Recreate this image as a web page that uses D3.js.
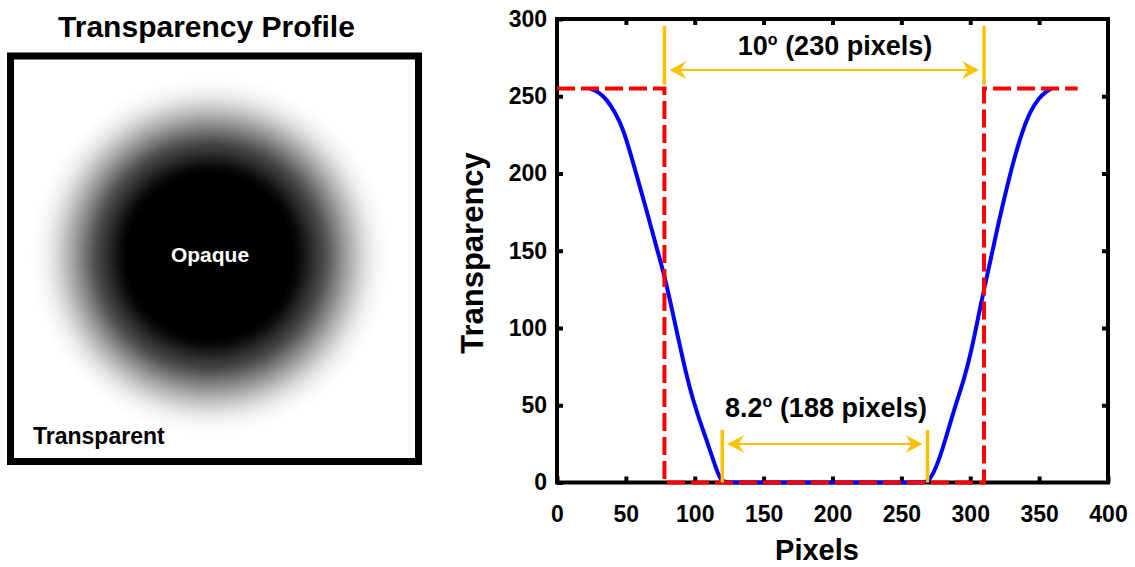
<!DOCTYPE html>
<html>
<head>
<meta charset="utf-8">
<script src="https://cdn.jsdelivr.net/npm/d3@7"></script>
<style>
  body { margin: 0; background: #fff; }
  text { font-family: "Liberation Sans", Arial, sans-serif; font-weight: bold; }
</style>
</head>
<body>
<svg width="1135" height="567"></svg>
<script>
// profile curve (blue)
var curveX = [24, 30, 36, 42, 48, 54, 60, 66, 72, 78, 84, 90, 96, 102, 108, 114, 119, 124,
              195, 265, 270, 277, 284, 290, 296, 302, 306, 310, 315, 320, 326, 332, 338, 344, 350, 355, 359];
var curveY = [255, 253, 248, 240, 229, 211, 192, 173, 153, 134, 110, 85, 62, 44, 29, 13, 0, 0,
              0, 0, 0, 13, 34, 52, 68, 90, 108, 125, 145, 166, 189, 210, 228, 241, 249, 253, 255];

// step profile (red dashed)
var stepX = [0, 78, 78, 310, 310, 378];
var stepY = [255, 255, 0, 0, 255, 255];

var xTicks = [0, 50, 100, 150, 200, 250, 300, 350, 400];
var yTicks = [0, 50, 100, 150, 200, 250, 300];

// annotations
var wideSpan = [78, 310], wideArrowY = 267, wideBar = [257.5, 295.5];
var narrowSpan = [120, 269], narrowArrowY = 25, narrowBar = [0, 34];

var orange = "#FFC000";
var svg = d3.select("svg");

// ---------- left panel ----------
var left = svg.append("g");

left.append("text")
    .attr("x", 206.5).attr("y", 37)
    .attr("text-anchor", "middle")
    .style("font-size", "30px")
    .text("Transparency Profile");

// radial gradient built from the right half of the curve
var center = 195, outer = 165;
var grad = svg.append("defs").append("radialGradient").attr("id", "blob");
grad.append("stop").attr("offset", 0).attr("stop-color", "#000").attr("stop-opacity", 1);
curveX.forEach(function(x, i) {
  if (x <= center) return;
  grad.append("stop")
      .attr("offset", (x - center) / outer)
      .attr("stop-color", "#000")
      .attr("stop-opacity", 1 - curveY[i] / 255);
});

left.append("rect")
    .attr("x", 10.5).attr("y", 56)
    .attr("width", 408).attr("height", 405.5)
    .attr("fill", "#fff")
    .attr("stroke", "#000").attr("stroke-width", 7);

left.append("circle")
    .attr("cx", 210).attr("cy", 256).attr("r", 182)
    .attr("fill", "url(#blob)");

left.append("text")
    .attr("x", 210).attr("y", 262)
    .attr("text-anchor", "middle")
    .attr("fill", "#fff")
    .style("font-size", "21px")
    .text("Opaque");

left.append("text")
    .attr("x", 33).attr("y", 444)
    .style("font-size", "23px")
    .text("Transparent");

// ---------- right chart ----------
var x = d3.scaleLinear().domain([0, 400]).range([557, 1108]);
var y = d3.scaleLinear().domain([0, 300]).range([482.5, 19]);

var chart = svg.append("g");

function styleAxis(g, withLabels) {
  g.select(".domain").remove();
  g.selectAll(".tick line").attr("stroke", "#000").attr("stroke-width", 4);
  g.selectAll(".tick text")
      .attr("fill", "#000")
      .style("font-family", "'Liberation Sans', Arial, sans-serif")
      .style("font-weight", "bold")
      .style("font-size", "23px");
  if (!withLabels) g.selectAll(".tick text").remove();
}

chart.append("g")
    .attr("transform", "translate(0," + y(0) + ")")
    .call(d3.axisBottom(x).tickValues(xTicks).tickSize(-6).tickPadding(23))
    .call(styleAxis, true);
chart.append("g")
    .attr("transform", "translate(0," + y(300) + ")")
    .call(d3.axisTop(x).tickValues(xTicks.slice(1, -1)).tickSize(-6))
    .call(styleAxis, false);
chart.append("g")
    .attr("transform", "translate(" + x(0) + ",0)")
    .call(d3.axisLeft(y).tickValues(yTicks).tickSize(-6).tickPadding(10))
    .call(styleAxis, true);
chart.append("g")
    .attr("transform", "translate(" + x(400) + ",0)")
    .call(d3.axisRight(y).tickValues(yTicks.slice(1, -1)).tickSize(-6))
    .call(styleAxis, false);

chart.append("rect")
    .attr("x", x(0)).attr("y", y(300))
    .attr("width", x(400) - x(0)).attr("height", y(0) - y(300))
    .attr("fill", "none")
    .attr("stroke", "#000").attr("stroke-width", 4);

var profile = d3.line()
    .x(function(d, i) { return x(curveX[i]); })
    .y(function(d) { return y(d); })
    .curve(d3.curveBasis);

chart.append("path")
    .attr("d", profile(curveY))
    .attr("fill", "none")
    .attr("stroke", "#0000ff")
    .attr("stroke-width", 4);

var step = d3.line()
    .x(function(d, i) { return x(stepX[i]); })
    .y(function(d) { return y(d); });

chart.append("path")
    .attr("d", step(stepY))
    .attr("fill", "none")
    .attr("stroke", "#ff0000")
    .attr("stroke-width", 4)
    .attr("stroke-dasharray", "18,6");

// orange width markers
function arrowHead(tx, ty, dir) {
  var p = d3.path();
  p.moveTo(tx, ty);
  p.lineTo(tx - dir * 17, ty - 9);
  p.lineTo(tx - dir * 11, ty);
  p.lineTo(tx - dir * 17, ty + 9);
  p.closePath();
  return p.toString();
}

function marker(span, arrowY, bar) {
  var g = chart.append("g");
  span.forEach(function(v) {
    g.append("line")
        .attr("x1", x(v)).attr("x2", x(v))
        .attr("y1", y(bar[0])).attr("y2", y(bar[1]))
        .attr("stroke", orange).attr("stroke-width", 3.5);
  });
  var x0 = x(span[0]) + 5, x1 = x(span[1]) - 5, yy = y(arrowY);
  g.append("line")
      .attr("x1", x0 + 10).attr("x2", x1 - 10)
      .attr("y1", yy).attr("y2", yy)
      .attr("stroke", orange).attr("stroke-width", 2);
  g.append("path").attr("d", arrowHead(x0, yy, -1)).attr("fill", orange);
  g.append("path").attr("d", arrowHead(x1, yy, 1)).attr("fill", orange);
}

marker(wideSpan, wideArrowY, wideBar);
marker(narrowSpan, narrowArrowY, narrowBar);

function degreeLabel(px, py, deg, rest) {
  var t = chart.append("text")
      .attr("x", px).attr("y", py)
      .attr("text-anchor", "middle")
      .style("font-size", "27px");
  t.append("tspan").text(deg);
  t.append("tspan").attr("dy", -10).style("font-size", "16px").text("o");
  t.append("tspan").attr("dy", 10).text(rest);
}

degreeLabel(835, 55, "10", " (230 pixels)");
degreeLabel(826, 417, "8.2", " (188 pixels)");

// axis titles
chart.append("text")
    .attr("x", 817).attr("y", 560)
    .attr("text-anchor", "middle")
    .style("font-size", "29px")
    .text("Pixels");

chart.append("text")
    .attr("transform", "translate(483,253) rotate(-90)")
    .attr("text-anchor", "middle")
    .style("font-size", "31px")
    .text("Transparency");
</script>
</body>
</html>
